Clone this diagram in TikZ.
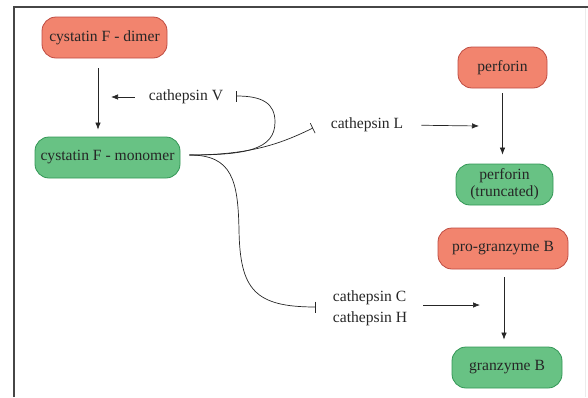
\documentclass[tikz,border=0pt]{standalone}
\usepackage{fontspec}
\setmainfont{Liberation Serif}
\usetikzlibrary{arrows.meta}
\definecolor{salmon}{RGB}{242,132,110}
\definecolor{salmonline}{RGB}{190,75,65}
\definecolor{leaf}{RGB}{104,194,132}
\definecolor{leafline}{RGB}{50,150,85}
\definecolor{framegray}{RGB}{70,70,70}

\begin{document}
\begin{tikzpicture}[x=1pt,y=-1pt,
  box/.style={rounded corners=14pt, minimum height=41pt, inner sep=2pt, align=center,
    font=\fontsize{15.6}{17}\selectfont, line width=0.8pt, text=black!85},
  inactive/.style={box, draw=salmonline, fill=salmon},
  active/.style={box, draw=leafline, fill=leaf},
  enzyme/.style={font=\fontsize{15.6}{21}\selectfont, inner sep=0pt, align=left, text=black!85},
  arr/.style={-{Latex[length=7pt,width=5.5pt]}, line width=0.7pt, black!85},
  blk/.style={-{Bar[width=11pt]}, line width=0.7pt, black!85}]
\useasboundingbox (0,0) rectangle (588,397);

% frame
\draw [framegray, line width=1.3pt] (14,397) -- (14,7) -- (588,7);
\draw [gray!15, line width=1pt] (585,8) -- (585,397);

% boxes
\node [inactive, minimum width=125pt] (dimer) at (104.5,37.5) {cystatin F - dimer};
\node [active, minimum width=145pt] (mono) at (107.5,157.5) {cystatin F - monomer};
\node [inactive, minimum width=89pt] (perf) at (502.5,67.5) {perforin};
\node [active, minimum width=97pt] (perft) at (504.5,184.5) {perforin\\(truncated)};
\node [inactive, minimum width=130pt] (pgzb) at (503,248.5) {pro-granzyme B};
\node [active, minimum width=110pt] (gzb) at (507,367.5) {granzyme B};

% cathepsins
\node [enzyme] (catV) at (186,97) {cathepsin V};
\node [enzyme] (catL) at (367,125) {cathepsin L};
\node [enzyme] (catCH) at (370,308.5) {cathepsin C\\cathepsin H};

\coordinate (tV) at (236,96);
\coordinate (tL) at (313,128);
\coordinate (tCH) at (316,307);
\coordinate (cut1) at (111,97);
\coordinate (cut2) at (479,126);
\coordinate (cut3) at (480,305);

% processing
\draw [arr, shorten <=10pt, shorten >=7pt] (dimer.south -| 98,0) -- (mono.north -| 98,0);
\draw [arr, shorten <=14pt] (catV.west) -- (cut1);
\draw [arr, shorten >=9pt, shorten <=5pt] (perf.south) -- (perf.south |- perft.north);
\draw [arr, shorten <=18pt] (catL.east) -- (cut2);
\draw [arr, shorten >=7pt, shorten <=8pt] ([xshift=1pt]pgzb.south) -- ([xshift=1pt]pgzb.south |- gzb.north);
\draw [arr, shorten <=16pt] (catCH.east |- cut3) -- (cut3);

% inhibition
\draw [blk] ([xshift=9pt,yshift=2.5pt]mono.east) .. controls (245,155) and (275,150) .. (275,122)
  .. controls (275,103) and (262,96) .. (tV);
\draw [blk] ([xshift=9pt,yshift=2.5pt]mono.east) .. controls (252,155) and (282,143) .. (tL);
\draw [blk] ([xshift=9pt,yshift=2.5pt]mono.east) .. controls (232,155) and (238,180) .. (239,230)
  .. controls (240,290) and (255,307) .. (tCH);
\end{tikzpicture}
\end{document}
